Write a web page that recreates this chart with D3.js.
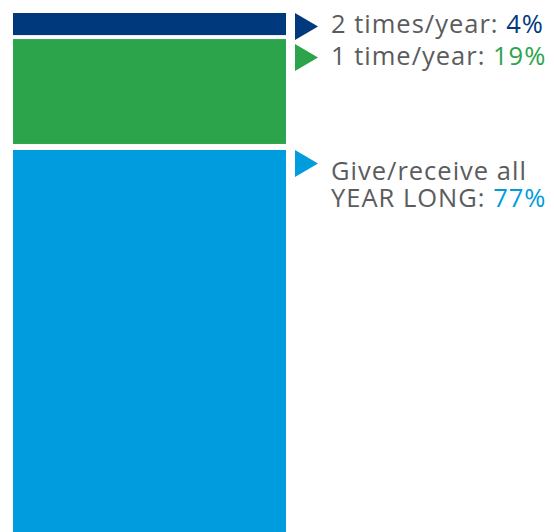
<!DOCTYPE html>
<html>
<head>
<meta charset="utf-8">
<script src="https://cdn.jsdelivr.net/npm/d3@7"></script>
<style>
  html, body { margin: 0; padding: 0; background: #fff; }
  svg { display: block; }
</style>
</head>
<body>
<svg id="chart" width="554" height="532"></svg>
<script>
// Gift-giving frequency shares (percent), top to bottom
const categories = ["2 times/year", "1 time/year", "Give/receive all YEAR LONG"];
const labelLines = [["2 times/year: "], ["1 time/year: "], ["Give/receive all", "YEAR LONG: "]];
const shares = [4, 19, 77];
const colors = ["#003a7c", "#2ba44b", "#009cdd"];

const svg = d3.select("#chart");
const barX0 = 13, barX1 = 286, barTop = 13;
const gaps = [0, 4, 6];
const textColor = "#5b5c5e";
const fontFamily = "'Open Sans', Lato, sans-serif";
const fontSize = 25.5;
const labelX = 331;
const minLabelGap = 31;          // smallest vertical distance between pointer rows
const baselineOffset = [20, 21, 30];

// vertical scale: percent -> pixel height (bottom segment runs off the page)
const y = d3.scaleLinear().domain([0, 100]).range([0, 552]);

let acc = 0, gapAcc = 0;
const segs = shares.map((v, i) => {
  gapAcc += gaps[i];
  const s = { i, v, y0: barTop + y(acc) + gapAcc, h: y(v) };
  acc += v;
  return s;
});

// pointer rows start at their segment's top, pushed down if they would collide
let prevTri = -Infinity;
segs.forEach(d => {
  d.ty = Math.max(d.y0, prevTri + minLabelGap);
  prevTri = d.ty;
});

svg.selectAll("rect.seg")
  .data(segs)
  .join("rect")
  .attr("class", "seg")
  .attr("x", barX0)
  .attr("width", barX1 - barX0)
  .attr("y", d => d.y0)
  .attr("height", d => d.h)
  .attr("fill", d => colors[d.i]);

// pointer triangles
svg.selectAll("path.ptr")
  .data(segs)
  .join("path")
  .attr("class", "ptr")
  .attr("d", d => `M295,${d.ty}L318,${d.ty + 13.5}L295,${d.ty + 27}Z`)
  .attr("fill", d => colors[d.i]);

// labels with coloured percentages
segs.forEach(d => {
  const lines = labelLines[d.i];
  const g = svg.append("text")
    .attr("x", labelX)
    .attr("y", d.ty + baselineOffset[d.i])
    .attr("font-family", fontFamily)
    .attr("font-size", fontSize)
    .attr("letter-spacing", 1)
    .attr("fill", textColor);
  lines.forEach((ln, j) => {
    const t = g.append("tspan").text(ln);
    if (j > 0) t.attr("x", labelX).attr("dy", 27);
  });
  g.append("tspan").attr("fill", colors[d.i]).text(d.v + "%");
});
</script>
</body>
</html>
